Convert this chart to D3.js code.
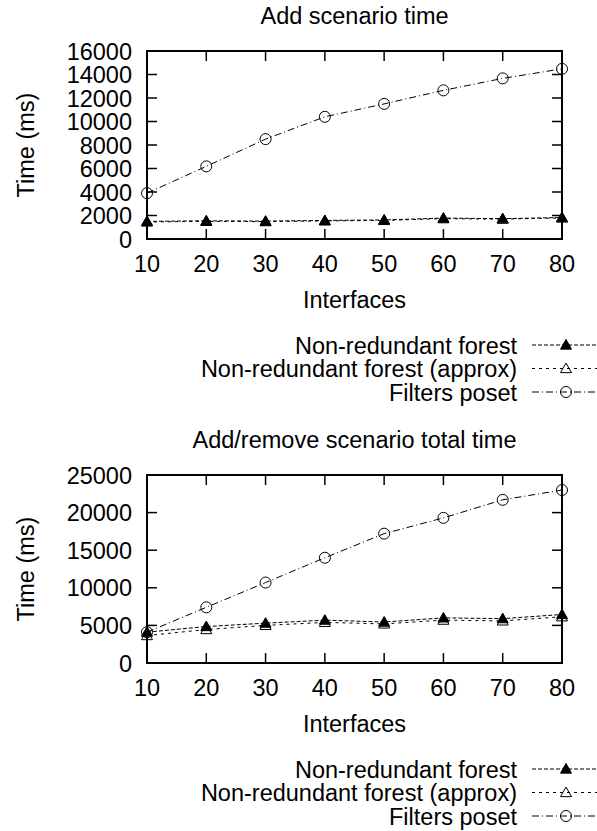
<!DOCTYPE html>
<html>
<head>
<meta charset="utf-8">
<script src="https://cdn.jsdelivr.net/npm/d3@7"></script>
<style>
  html, body { margin: 0; padding: 0; background: #fff; }
  svg { display: block; }
  text { font-family: "Liberation Sans", Arial, Helvetica, sans-serif; font-size: 23.5px; fill: #000; }
</style>
</head>
<body>
<script>
// ---- data ----
const interfaces = [10, 20, 30, 40, 50, 60, 70, 80];
const xTicks = [10, 20, 30, 40, 50, 60, 70, 80];

const seriesNames = ["Non-redundant forest", "Non-redundant forest (approx)", "Filters poset"];

// Add scenario time (ms)
const addForest = [1500, 1550, 1520, 1580, 1620, 1780, 1730, 1830];
const addApprox = [1450, 1500, 1480, 1540, 1580, 1730, 1690, 1790];
const addPoset  = [3900, 6180, 8500, 10400, 11500, 12650, 13670, 14480];
const addYTicks = [0, 2000, 4000, 6000, 8000, 10000, 12000, 14000, 16000];

// Add/remove scenario total time (ms)
const arForest = [4100, 4850, 5300, 5700, 5450, 6000, 5900, 6450];
const arApprox = [3650, 4450, 5000, 5400, 5200, 5700, 5600, 6150];
const arPoset  = [4100, 7400, 10700, 14000, 17200, 19300, 21700, 23000];
const arYTicks = [0, 5000, 10000, 15000, 20000, 25000];

// ---- drawing ----
const W = 597, H = 831;
const svg = d3.select("body").append("svg").attr("width", W).attr("height", H);

const styles = [
  { dash: "4,2", marker: "filled" },
  { dash: "3,4", marker: "open" },
  { dash: "7,3,1,3", marker: "circle" }
];

function drawMarker(g, kind, cx, cy) {
  if (kind === "circle") {
    g.append("circle").attr("cx", cx).attr("cy", cy).attr("r", 5.5)
      .attr("fill", "none").attr("stroke", "#000").attr("stroke-width", 1);
  } else {
    const s = 5.5;
    const pts = [[cx, cy - s], [cx - s, cy + s * 0.75], [cx + s, cy + s * 0.75]];
    g.append("path").attr("d", "M" + pts.map(p => p.join(",")).join("L") + "Z")
      .attr("fill", kind === "filled" ? "#000" : "none")
      .attr("stroke", "#000").attr("stroke-width", 1);
  }
}

function drawPanel(opts) {
  const left = 147, right = 562, top = opts.top, bottom = opts.top + 188;
  const g = svg.append("g");
  const x = d3.scaleLinear().domain([10, 80]).range([left, right]);
  const y = d3.scaleLinear().domain([0, opts.ymax]).range([bottom, top]);

  // title
  g.append("text").attr("x", (left + right) / 2).attr("y", top - 27)
    .attr("text-anchor", "middle").text(opts.title);

  // series lines + markers
  const line = d3.line().x((d, i) => x(interfaces[i])).y(d => y(d));
  opts.series.forEach((vals, si) => {
    g.append("path").datum(vals).attr("d", line)
      .attr("fill", "none").attr("stroke", "#000").attr("stroke-width", 1)
      .attr("stroke-dasharray", styles[si].dash);
    vals.forEach((v, i) => drawMarker(g, styles[si].marker, x(interfaces[i]), y(v)));
  });

  // axes (inward ticks, mirrored)
  const tl = 10;
  const axG = g.append("g").attr("stroke", "#000").attr("stroke-width", 1.5);
  opts.yTicks.forEach(t => {
    axG.append("line").attr("x1", left).attr("x2", left + tl).attr("y1", y(t)).attr("y2", y(t));
    axG.append("line").attr("x1", right).attr("x2", right - tl).attr("y1", y(t)).attr("y2", y(t));
  });
  xTicks.forEach(t => {
    axG.append("line").attr("x1", x(t)).attr("x2", x(t)).attr("y1", bottom).attr("y2", bottom - tl);
    axG.append("line").attr("x1", x(t)).attr("x2", x(t)).attr("y1", top).attr("y2", top + tl);
  });
  g.append("rect").attr("x", left).attr("y", top).attr("width", right - left).attr("height", bottom - top)
    .attr("fill", "none").attr("stroke", "#000").attr("stroke-width", 2);

  // tick labels
  opts.yTicks.forEach(t => {
    g.append("text").attr("x", left - 15).attr("y", y(t) + 8.5).attr("text-anchor", "end").text(t);
  });
  xTicks.forEach(t => {
    g.append("text").attr("x", x(t)).attr("y", bottom + 33).attr("text-anchor", "middle").text(t);
  });

  // axis labels
  g.append("text").attr("x", (left + right) / 2).attr("y", bottom + 69)
    .attr("text-anchor", "middle").text("Interfaces");
  g.append("text").attr("transform", `translate(34,${(top + bottom) / 2}) rotate(-90)`)
    .attr("text-anchor", "middle").text("Time (ms)");

  // legend
  seriesNames.forEach((name, si) => {
    const cy = bottom + 106 + si * 23.5;
    g.append("text").attr("x", 517).attr("y", cy + 8.5).attr("text-anchor", "end").text(name);
    g.append("line").attr("x1", 532).attr("x2", 601).attr("y1", cy).attr("y2", cy)
      .attr("stroke", "#000").attr("stroke-width", 1).attr("stroke-dasharray", styles[si].dash);
    drawMarker(g, styles[si].marker, 566, cy);
  });
}

drawPanel({ top: 51, ymax: 16000, yTicks: addYTicks, title: "Add scenario time",
            series: [addForest, addApprox, addPoset] });
drawPanel({ top: 475, ymax: 25000, yTicks: arYTicks, title: "Add/remove scenario total time",
            series: [arForest, arApprox, arPoset] });
</script>
</body>
</html>
